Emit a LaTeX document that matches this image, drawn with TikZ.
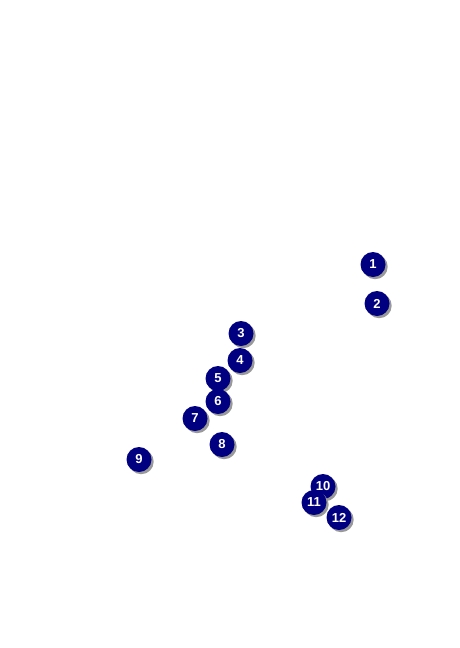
\documentclass[tikz,border=0pt]{standalone}
\usepackage{fontspec}
\setmainfont{Liberation Sans}
\begin{document}
\begin{tikzpicture}[x=1pt,y=-1pt,
  badge/.style={circle, fill={rgb,255:red,0;green,0;blue,128}, minimum size=25pt, inner sep=0pt,
    text=white, font=\fontsize{13}{13}\selectfont\bfseries,
    preaction={fill=black!40, transform canvas={shift={(2.2pt,-2.2pt)}}}}]
\useasboundingbox (0,0) rectangle (459,648);
\node[badge] (n1) at (373,264.5) {1};
\node[badge] (n2) at (377,303.5) {2};
\node[badge] (n3) at (241,333.5) {3};
\node[badge] (n4) at (240,360.5) {4};
\node[badge] (n5) at (218,378.5) {5};
\node[badge] (n6) at (218,401.5) {6};
\node[badge] (n7) at (195,418.5) {7};
\node[badge] (n8) at (222,444.5) {8};
\node[badge] (n9) at (139,459.5) {9};
\node[badge] (n10) at (323,486.5) {10};
\node[badge] (n11) at (314,502.5) {11};
\node[badge] (n12) at (339,517.5) {12};
\end{tikzpicture}
\end{document}
